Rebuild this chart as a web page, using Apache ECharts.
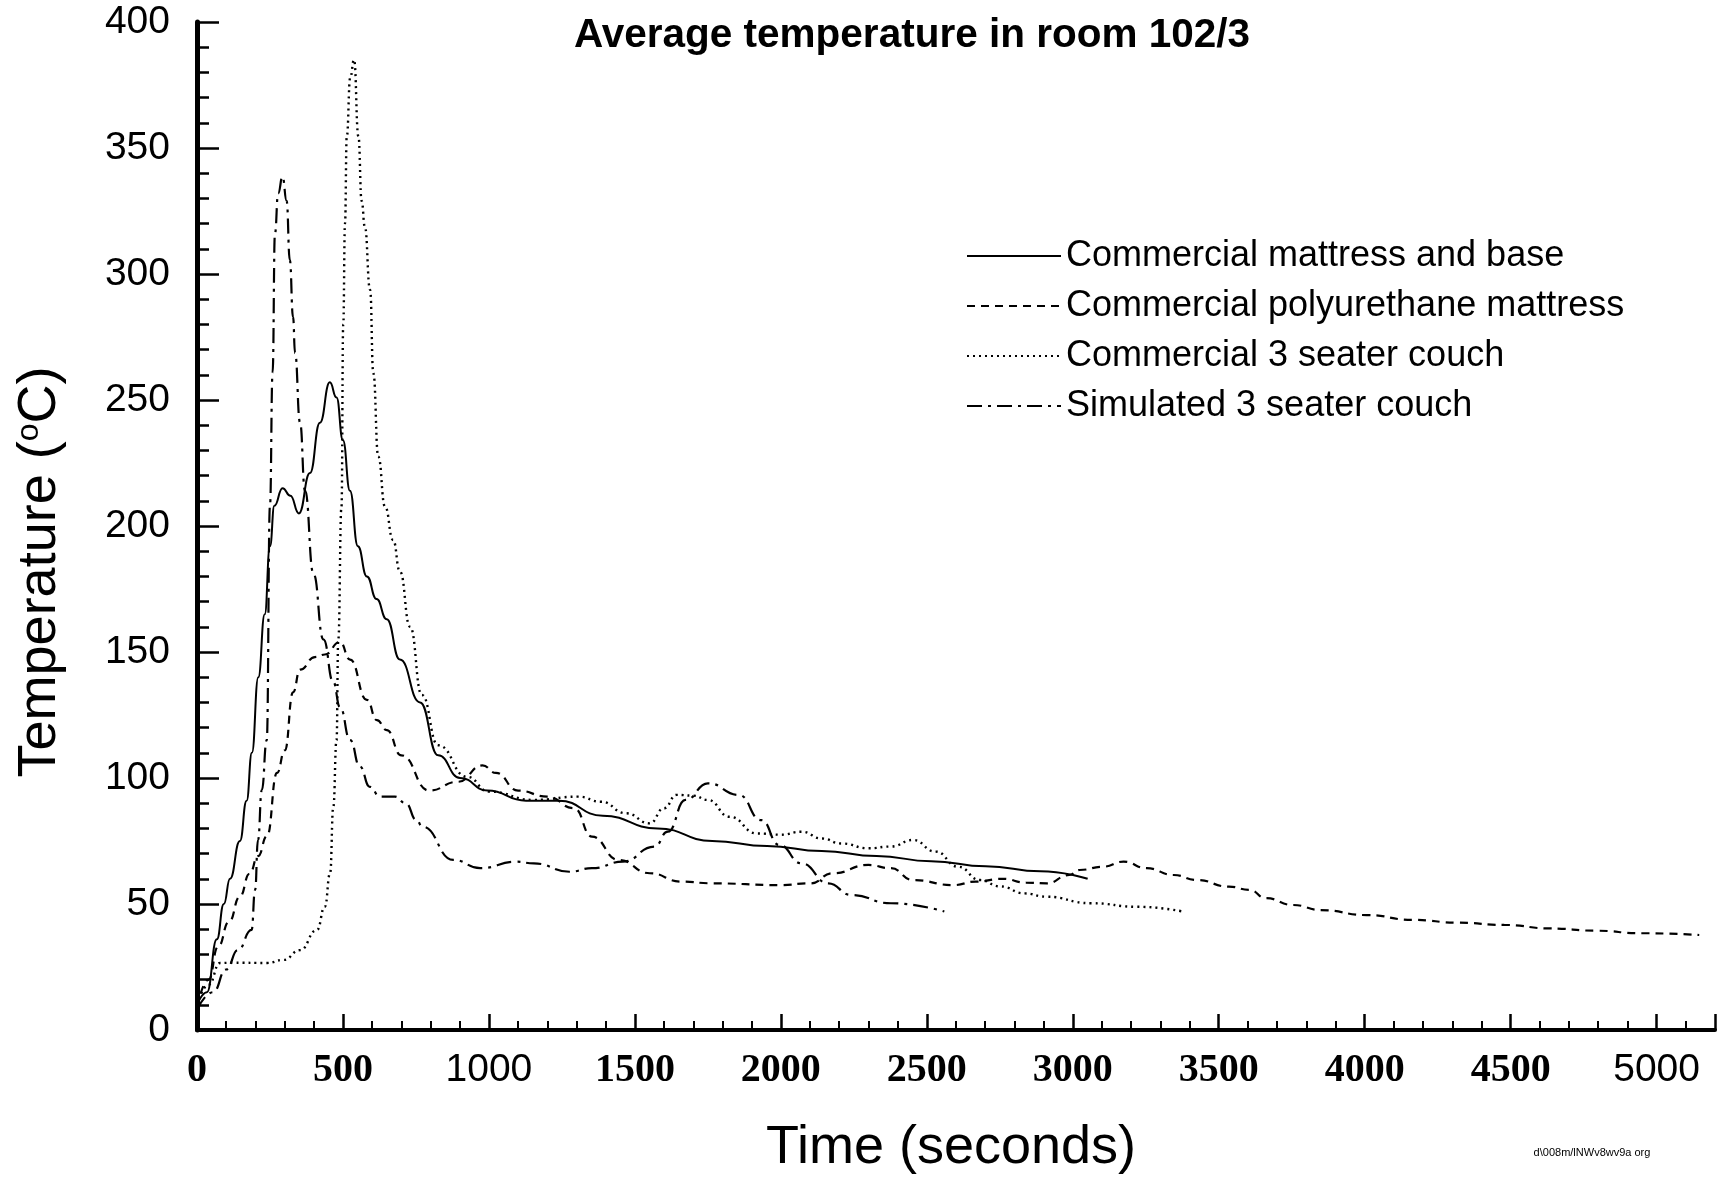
<!DOCTYPE html>
<html><head><meta charset="utf-8">
<script src="https://cdn.jsdelivr.net/npm/echarts@6/dist/echarts.min.js"></script>
<style>html,body{margin:0;padding:0;background:#fff}#c{width:1718px;height:1178px}</style>
</head><body><div id="c"></div>
<script>
// ---- data (time in s, temperature in °C) ----
const seriesNames = ['Commercial mattress and base', 'Commercial polyurethane mattress', 'Commercial 3 seater couch', 'Simulated 3 seater couch'];

const mattressBaseTime = [0, 34, 68, 92, 113, 147, 170, 188, 210, 232, 250, 265, 293, 320, 349, 387, 421, 455, 478, 500, 524, 551, 582, 615, 650, 695, 764, 826, 901, 995, 1127, 1240, 1390, 1578, 1765, 1953, 2140, 2328, 2515, 2702, 2890, 3051];
const mattressBaseTemp = [10, 15, 36, 50, 60, 75, 91, 110, 140, 165, 192, 208, 215, 212, 205, 221, 241, 257, 251, 234, 214, 192, 180, 171, 163, 147, 130, 109, 100, 95, 91, 91, 85, 80, 75, 73, 71, 69, 67, 65, 63, 60];

const polyTime = [0, 40, 72, 110, 147, 180, 209, 240, 274, 301, 329, 353, 404, 438, 490, 524, 582, 616, 650, 700, 795, 894, 978, 1024, 1100, 1200, 1292, 1353, 1444, 1551, 1658, 1765, 1995, 2101, 2178, 2300, 2377, 2453, 2591, 2668, 2760, 2840, 2911, 2988, 3024, 3103, 3174, 3253, 3346, 3425, 3535, 3606, 3661, 3755, 3849, 4007, 4164, 4321, 4478, 4635, 4791, 4949, 5146];
const polyTemp = [9, 20, 33, 43, 53, 62, 69, 77, 102, 111, 134, 143, 148, 149, 154, 147, 131, 123, 119, 109, 95, 98.5, 105, 102, 95, 92.6, 88, 76.7, 67.5, 62.2, 58.9, 58.2, 57.5, 58.2, 62.2, 65.5, 64.2, 59.5, 57.5, 58.9, 60, 58.5, 58.2, 61.5, 63.5, 64.8, 66.8, 64.2, 61.5, 59.5, 56.9, 55.6, 52.3, 49.6, 47.6, 45.6, 43.7, 42.6, 41.7, 40.3, 39.4, 38.4, 37.7];

const couchTime = [0, 40, 79, 124, 240, 296, 353, 411, 438, 456, 467, 478, 484, 495, 501, 507, 513, 525, 538, 553, 564, 575, 593, 604, 621, 644, 672, 695, 730, 770, 826, 925, 1000, 1154, 1307, 1383, 1470, 1551, 1600, 1643, 1700, 1750, 1825, 1918, 2000, 2071, 2140, 2208, 2300, 2377, 2453, 2530, 2607, 2683, 2750, 2836, 2907, 3064, 3221, 3378];
const couchTemp = [10, 18, 26.6, 26.7, 26.6, 27.8, 31.7, 39.7, 48.9, 62.2, 88.6, 115, 155, 207.7, 280, 320, 354.5, 378, 385, 354.5, 329, 318.8, 293.7, 260.6, 227.5, 207.7, 194.4, 182, 160, 133, 113, 100.5, 94.6, 91.3, 92.6, 90.6, 86, 82, 88, 93.3, 93, 91.3, 84.6, 78, 77.5, 78.7, 76, 74, 72.1, 72.8, 75.4, 70.8, 64.8, 59.5, 57, 54.2, 52.9, 50.3, 48.9, 47];

const simCouchTime = [0, 55, 100, 140, 187, 199, 209, 222, 239, 250, 259, 267, 278, 293, 307, 318, 329, 336, 353, 370, 399, 433, 467, 490, 525, 558, 592, 627, 678, 715, 752, 772, 878, 970, 1092, 1154, 1276, 1353, 1459, 1567, 1613, 1673, 1750, 1856, 1933, 1995, 2071, 2163, 2240, 2377, 2560];
const simCouchTemp = [8, 15, 24, 31.7, 39.7, 55.5, 75.4, 95.2, 115, 208, 261, 316, 332, 338.6, 329, 305.5, 283, 268.6, 241, 214, 181, 155, 138, 128, 115, 104.5, 96.5, 92.6, 92.6, 90, 83.3, 80.7, 67.5, 64.2, 66.8, 66.1, 62.8, 64.2, 66.8, 72.8, 78.7, 91.3, 97.9, 93.3, 83.3, 73.4, 66.1, 58.2, 53.6, 50.3, 47];

const xTickValues = [0, 500, 1000, 1500, 2000, 2500, 3000, 3500, 4000, 4500, 5000];
const yTickValues = [0, 50, 100, 150, 200, 250, 300, 350, 400];

const zip = (a, b) => a.map((v, i) => [v, b[i]]);

const chart = echarts.init(document.getElementById('c'), null, {renderer: 'canvas'});
const black = '#000';
const sans = "'Liberation Sans', Arial, sans-serif";
const serif = "'Liberation Serif', 'Times New Roman', serif";

function mk(name, t, v, type, width) {
  return {
    name: name, type: 'line', data: zip(t, v), symbol: 'none', showSymbol: false,
    smooth: 0.5, smoothMonotone: 'x', silent: true,
    lineStyle: {color: black, width: width, type: type},
    itemStyle: {color: black}
  };
}

chart.setOption({
  animation: false,
  backgroundColor: '#fff',
  color: [black],
  grid: {left: 197, right: 3, top: 22, bottom: 148, containLabel: false},
  xAxis: {
    type: 'value', min: 0, max: 5200, interval: 500,
    axisLine: {show: true, lineStyle: {color: black, width: 4}},
    axisTick: {show: true, inside: true, length: 16, lineStyle: {color: black, width: 2.5}},
    minorTick: {show: true, splitNumber: 5, length: 9, lineStyle: {color: black, width: 2}},
    splitLine: {show: false},
    axisLabel: {
      margin: 21, showMaxLabel: false, color: black,
      formatter: function (v) {
        if (xTickValues.indexOf(v) < 0) return '';
        return (v === 1000 || v === 5000) ? '{s|' + v + '}' : '{b|' + v + '}';
      },
      rich: {
        s: {fontFamily: sans, fontSize: 39, color: black},
        b: {fontFamily: serif, fontWeight: 'bold', fontSize: 40, color: black}
      }
    }
  },
  yAxis: {
    type: 'value', min: 0, max: 400, interval: 50,
    axisLine: {show: true, lineStyle: {color: black, width: 5}},
    axisTick: {show: true, inside: true, length: 22, lineStyle: {color: black, width: 2.5}},
    minorTick: {show: true, splitNumber: 5, length: 12, lineStyle: {color: black, width: 2.5}},
    splitLine: {show: false},
    axisLabel: {
      margin: 27, color: black, fontFamily: sans, fontSize: 39,
      formatter: function (v) { return yTickValues.indexOf(v) >= 0 ? String(v) : ''; }
    }
  },
  legend: {
    orient: 'vertical', left: 961, top: 233, itemWidth: 94, itemHeight: 14, itemGap: 14,
    data: seriesNames,
    itemStyle: {opacity: 0},
    lineStyle: {width: 2},
    textStyle: {fontFamily: sans, fontSize: 36, color: black},
    selectedMode: false
  },
  series: [
    mk(seriesNames[0], mattressBaseTime, mattressBaseTemp, 'solid', 2),
    mk(seriesNames[1], polyTime, polyTemp, [8, 6], 2.2),
    mk(seriesNames[2], couchTime, couchTemp, [2, 4], 2.4),
    mk(seriesNames[3], simCouchTime, simCouchTemp, [15, 6, 3, 6], 2.2)
  ],
  graphic: [
    {type: 'text', x: 912, y: 36, silent: true,
     style: {text: 'Average temperature in room 102/3', fontFamily: sans, fontWeight: 'bold', fontSize: 40.5, fill: black, align: 'center', verticalAlign: 'middle'}},
    {type: 'text', x: 951, y: 1148, silent: true,
     style: {text: 'Time (seconds)', fontFamily: sans, fontSize: 54, fill: black, align: 'center', verticalAlign: 'middle'}},
    {type: 'text', x: 40, y: 572, rotation: Math.PI / 2, silent: true,
     style: {text: 'Temperature ({s|o}C)', fontFamily: sans, fontSize: 54, fill: black, align: 'center', verticalAlign: 'middle',
       rich: {s: {fontFamily: sans, fontSize: 32, fill: black, verticalAlign: 'top', lineHeight: 30}}}},
    {type: 'text', x: 1592, y: 1153, silent: true,
     style: {text: 'd\\008m/lNWv8wv9a org', fontFamily: sans, fontSize: 11, fill: black, align: 'center', verticalAlign: 'middle'}}
  ]
});
</script>
</body></html>
